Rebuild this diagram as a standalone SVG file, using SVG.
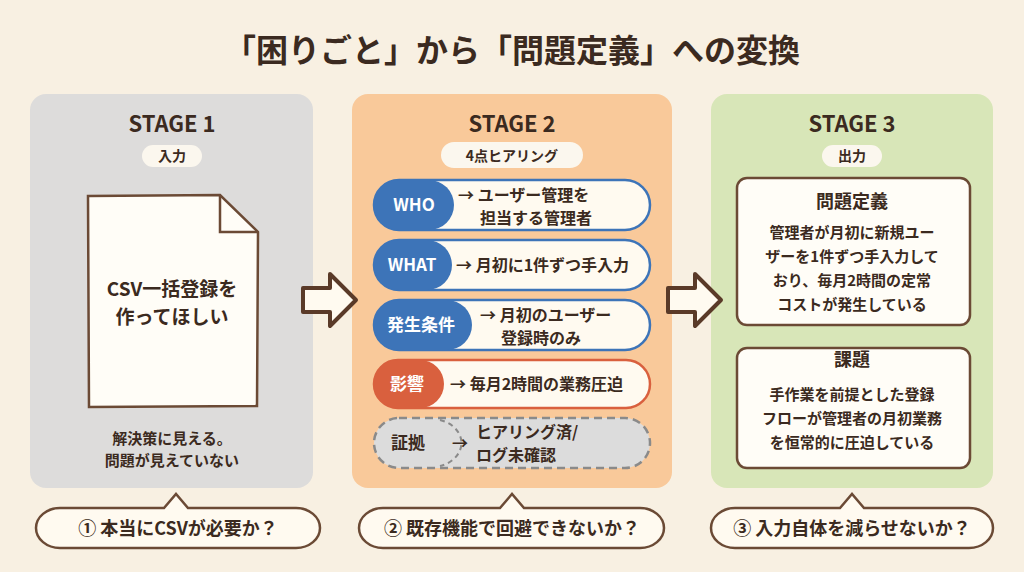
<svg xmlns="http://www.w3.org/2000/svg" width="1024" height="572" viewBox="0 0 1024 572">
<style>
text{font-family:"Noto Sans CJK JP","Noto Sans",sans-serif;fill:#3b2a20;font-weight:700}
.st{font-size:22px;text-anchor:middle}
.pl{font-size:14px;text-anchor:middle}
.tag{font-size:17px;text-anchor:middle;fill:#fff}
.row{font-size:16px}
.bx{fill:#fffdf7;stroke:#6b4a35;stroke-width:2.5}
.cb{fill:#fffaf0;stroke:#6b4a35;stroke-width:2.5}
.arr{fill:#fffaf0;stroke:#5a3a28;stroke-width:4;stroke-linejoin:round}
</style>
<rect width="1024" height="572" fill="#f8f0e2"/>
<text x="512" y="62" font-size="32" text-anchor="middle">「困りごと」から「問題定義」への変換</text>

<g id="stage1">
<rect x="30" y="94" width="283" height="394" rx="16" fill="#dddcdb"/>
<text class="st" x="172" y="132">STAGE 1</text>
<rect x="142" y="145" width="60" height="22" rx="11" fill="#fbf7ee"/>
<text class="pl" x="172" y="161">入力</text>
<path d="M88 196 L220 195 L258 232 L257 406 L89 407 Z" class="bx"/>
<path d="M220 195 L220 232 L258 232" fill="none" stroke="#6b4a35" stroke-width="2.5"/>
<text x="172" y="296" font-size="19" text-anchor="middle">CSV一括登録を</text>
<text x="172" y="324" font-size="19" text-anchor="middle">作ってほしい</text>
<text x="172" y="444" font-size="15" text-anchor="middle">解決策に見える。</text>
<text x="172" y="466" font-size="15" text-anchor="middle">問題が見えていない</text>
</g>

<g id="stage2">
<rect x="352" y="94" width="320" height="394" rx="16" fill="#f9c99a"/>
<text class="st" x="512" y="132">STAGE 2</text>
<rect x="441" y="142" width="142" height="26" rx="13" fill="#fbf7ee"/>
<text class="pl" x="512" y="161">4点ヒアリング</text>
<g id="who"><rect x="374" y="180" width="276" height="50" rx="25" fill="#fffaf0" stroke="#3d74b8" stroke-width="2.5"/><rect x="374" y="180" width="80" height="50" rx="25" fill="#3d74b8"/><text class="tag" x="414" y="211">WHO</text><text class="row" x="458" y="201">→ ユーザー管理を</text><text class="row" x="480" y="224">担当する管理者</text></g>
<g id="what"><rect x="374" y="240" width="276" height="50" rx="25" fill="#fffaf0" stroke="#3d74b8" stroke-width="2.5"/><rect x="374" y="240" width="78" height="50" rx="25" fill="#3d74b8"/><text class="tag" x="412" y="271">WHAT</text><text class="row" x="456" y="271">→ 月初に1件ずつ手入力</text></g>
<g id="cond"><rect x="374" y="300" width="276" height="50" rx="25" fill="#fffaf0" stroke="#3d74b8" stroke-width="2.5"/><rect x="374" y="300" width="98" height="50" rx="25" fill="#3d74b8"/><text class="tag" x="421" y="331">発生条件</text><text class="row" x="480" y="321">→ 月初のユーザー</text><text class="row" x="501" y="344">登録時のみ</text></g>
<g id="impact"><rect x="374" y="360" width="276" height="48" rx="24" fill="#fffaf0" stroke="#d9603e" stroke-width="2.5"/><rect x="374" y="360" width="70" height="48" rx="24" fill="#d9603e"/><text class="tag" x="407" y="390">影響</text><text class="row" x="450" y="390">→ 毎月2時間の業務圧迫</text></g>
<g id="evidence"><rect x="374" y="418" width="276" height="50" rx="25" fill="#dcdcdc" stroke="#8a8a8a" stroke-width="2.5" stroke-dasharray="8 5"/><path d="M440 420 A30 24 0 0 1 440 466" fill="none" stroke="#8a8a8a" stroke-width="2" stroke-dasharray="5 4"/><text x="408" y="449" font-size="17" text-anchor="middle">証拠</text><text class="row" x="452" y="449">→</text><text class="row" x="476" y="438">ヒアリング済/</text><text class="row" x="476" y="461">ログ未確認</text></g>
</g>

<g id="stage3">
<rect x="711" y="94" width="282" height="394" rx="16" fill="#d8e6b8"/>
<text class="st" x="852" y="132">STAGE 3</text>
<rect x="822" y="145" width="60" height="22" rx="11" fill="#fbf7ee"/>
<text class="pl" x="852" y="161">出力</text>
<rect x="737" y="178" width="233" height="147" rx="10" class="bx"/>
<text x="852" y="208" font-size="18" text-anchor="middle">問題定義</text>
<text x="852" y="238" font-size="15" text-anchor="middle">管理者が月初に新規ユー</text>
<text x="852" y="262" font-size="15" text-anchor="middle">ザーを1件ずつ手入力して</text>
<text x="852" y="286" font-size="15" text-anchor="middle">おり、毎月2時間の定常</text>
<text x="852" y="310" font-size="15" text-anchor="middle">コストが発生している</text>
<rect x="737" y="348" width="233" height="120" rx="10" class="bx"/>
<text x="852" y="366" font-size="18" text-anchor="middle">課題</text>
<text x="852" y="400" font-size="15" text-anchor="middle">手作業を前提とした登録</text>
<text x="852" y="424" font-size="15" text-anchor="middle">フローが管理者の月初業務</text>
<text x="852" y="448" font-size="15" text-anchor="middle">を恒常的に圧迫している</text>
</g>

<g id="connectors">
<path class="arr" d="M303 288 L330 288 L330 274 L356 300 L330 326 L330 312 L303 312 Z"/>
<path class="arr" d="M668 288 L695 288 L695 274 L721 300 L695 326 L695 312 L668 312 Z"/>
</g>

<g id="q1"><path class="cb" d="M60 508 L164 508 L176 494 L188 508 L296 508 A24 20 0 0 1 296 548 L60 548 A24 20 0 0 1 60 508 Z"/><text x="178" y="535" font-size="18" text-anchor="middle">① 本当にCSVが必要か？</text></g>
<g id="q2"><path class="cb" d="M383 508 L500 508 L512 494 L524 508 L640 508 A24 20 0 0 1 640 548 L383 548 A24 20 0 0 1 383 508 Z"/><text x="512" y="535" font-size="18" text-anchor="middle">② 既存機能で回避できないか？</text></g>
<g id="q3"><path class="cb" d="M735 508 L840 508 L852 494 L864 508 L969 508 A24 20 0 0 1 969 548 L735 548 A24 20 0 0 1 735 508 Z"/><text x="852" y="535" font-size="18" text-anchor="middle">③ 入力自体を減らせないか？</text></g>
</svg>
